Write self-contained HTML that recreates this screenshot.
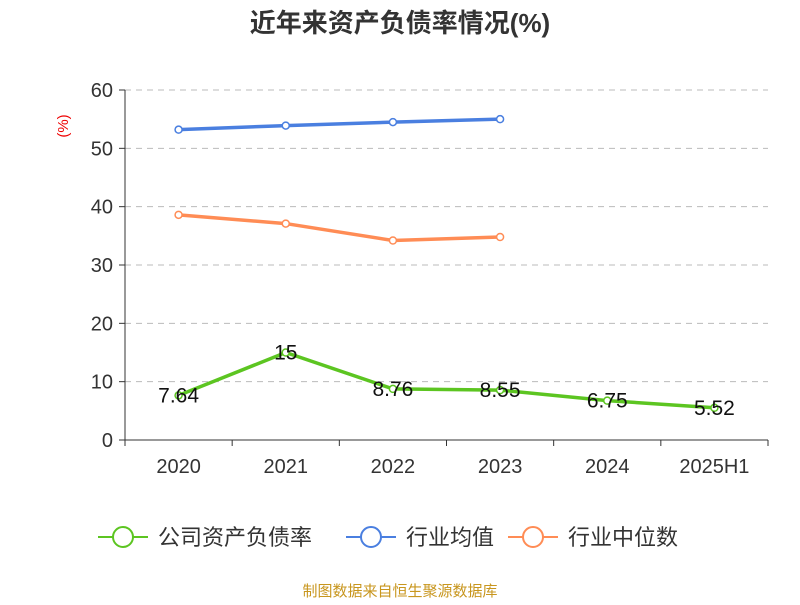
<!DOCTYPE html>
<html><head><meta charset="utf-8"><style>
body{margin:0;background:#fff;font-family:"Liberation Sans","Noto Sans CJK SC",sans-serif}
</style></head><body>
<svg id="c" width="800" height="600" xmlns="http://www.w3.org/2000/svg" font-family="Liberation Sans, Noto Sans CJK SC, sans-serif"></svg>
<script>
const categories=["2020","2021","2022","2023","2024","2025H1"];
const companyVals=[7.64,15,8.76,8.55,6.75,5.52];
const avgVals=[53.2,53.9,54.5,55.0];
const medVals=[38.6,37.1,34.2,34.8];
const yTicks=[0,10,20,30,40,50,60];
const svg=document.getElementById('c');
const NS='http://www.w3.org/2000/svg';
const x0=125,x1=768,yB=440,yT=90,yMax=60;
const bw=(x1-x0)/categories.length;
const xs=i=>x0+bw*(i+0.5);
const ys=v=>yB-(v/yMax)*(yB-yT);
function mk(t,a,p){const e=document.createElementNS(NS,t);for(const k in a)e.setAttribute(k,a[k]);(p||svg).appendChild(e);return e;}
let t=mk('text',{x:400,y:32,'text-anchor':'middle','font-size':26,'font-weight':'bold',fill:'#333'});t.textContent='近年来资产负债率情况(%)';


t=mk('text',{x:68,y:126,'text-anchor':'middle','font-size':15,fill:'#e00',transform:'rotate(-90 68 126)'});t.textContent='(%)';


yTicks.forEach(v=>{const y=ys(v);
 if(v>0){const g=mk('line',{x1:x0,x2:x1,y1:y,y2:y,stroke:'#bbb','stroke-dasharray':'6,5'});
 
 }
 mk('line',{x1:x0-6,x2:x0,y1:y,y2:y,stroke:'#333'});
 const l=mk('text',{x:x0-12,y:y+7,'text-anchor':'end','font-size':20,fill:'#333'});l.textContent=v;
 
 
});
let ax=mk('line',{x1:x0,x2:x0,y1:yT,y2:yB,stroke:'#333'});


ax=mk('line',{x1:x0,x2:x1,y1:yB,y2:yB,stroke:'#333'});


for(let i=0;i<=categories.length;i++){mk('line',{x1:x0+bw*i,x2:x0+bw*i,y1:yB,y2:yB+6,stroke:'#333'});}
categories.forEach((c,i)=>{const l=mk('text',{x:xs(i),y:473,'text-anchor':'middle','font-size':20,fill:'#333'});l.textContent=c;
 
 });
function series(vals,color,name,labels){
 const p=mk('polyline',{points:vals.map((v,i)=>xs(i)+','+ys(v)).join(' '),fill:'none',stroke:color,'stroke-width':3.5});
 
 
 vals.forEach((v,i)=>{const c=mk('circle',{cx:xs(i),cy:ys(v),r:3.5,fill:'#fff',stroke:color,'stroke-width':1.5});
  
  
  if(labels){const l=mk('text',{x:xs(i),y:ys(v)+7,'text-anchor':'middle','font-size':21,fill:'#111'});l.textContent=v;
   
   }
 });
}
series(avgVals,'#4a7fe0','industry-average',false);
series(medVals,'#ff8c55','industry-median',false);
series(companyVals,'#5cc521','company',true);
const leg=[['公司资产负债率','#5cc521',98],['行业均值','#4a7fe0',346],['行业中位数','#ff8c55',508]];
leg.forEach(([n,c,x])=>{const g=mk('g',{});
 
 
 mk('line',{x1:x,x2:x+50,y1:537,y2:537,stroke:c,'stroke-width':2},g);
 mk('circle',{cx:x+25,cy:537,r:10,fill:'#fff',stroke:c,'stroke-width':2},g);
 const l=mk('text',{x:x+60,y:545,'font-size':22,fill:'#333'},g);l.textContent=n;});
t=mk('text',{x:400,y:596,'text-anchor':'middle','font-size':15,fill:'#c8961e'});t.textContent='制图数据来自恒生聚源数据库';


</script>
</body></html>
